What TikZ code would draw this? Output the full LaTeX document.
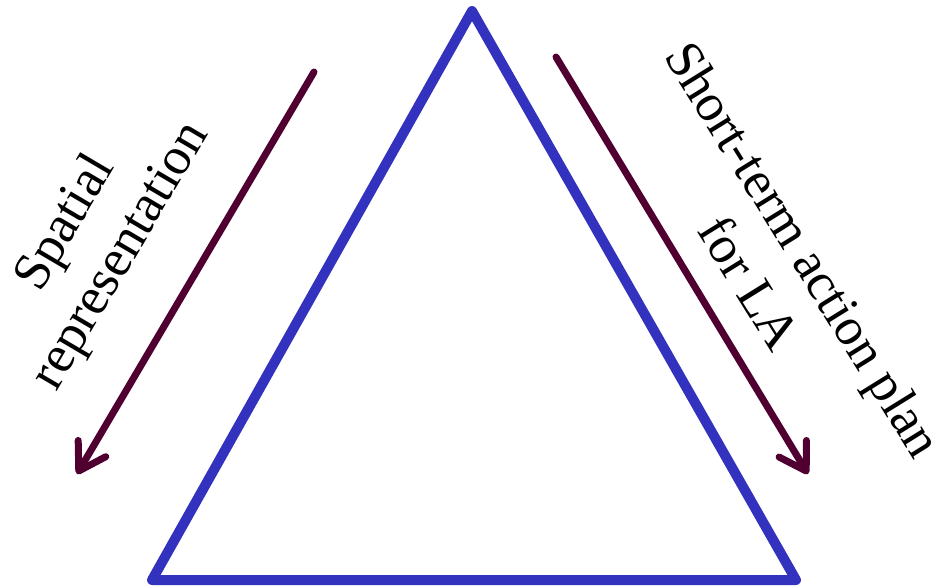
\documentclass[tikz,border=0pt]{standalone}
\usepackage{fontspec}
\setmainfont{Liberation Serif}
\usetikzlibrary{arrows.meta}
\definecolor{triblue}{RGB}{50,50,190}
\definecolor{flowred}{RGB}{80,0,48}
\tikzset{side/.style={draw=triblue,line width=10pt,line join=round,line cap=round},
  flow/.style={draw=flowred,line width=7pt,line cap=round,
    -{Straight Barb[round,length=26pt,width=32pt]}},
  caption/.style={align=center,inner sep=0pt,font=\fontsize{53}{64}\selectfont}}

\begin{document}
\begin{tikzpicture}[x=1pt,y=-1pt]
  \path[use as bounding box] (0,0) rectangle (936,588);
  \coordinate (top) at (472,11);
  \coordinate (bl) at (152,580);
  \coordinate (br) at (796,580);
  \draw[side] (top) -- (br) -- (bl) -- cycle;
  \coordinate (l1) at (314,72); \coordinate (l2) at (77,474);
  \coordinate (r1) at (556,57); \coordinate (r2) at (808,474);
  \draw[flow] (l1) -- (l2);
  \draw[flow] (r1) -- (r2);
  \node[caption,rotate=59.5] (spatial) at (94,240) {Spatial\\representation};
  \node[caption,rotate=-58.2] (plan) at (777,266) {Short-term action plan\\for LA};
\end{tikzpicture}
\end{document}
